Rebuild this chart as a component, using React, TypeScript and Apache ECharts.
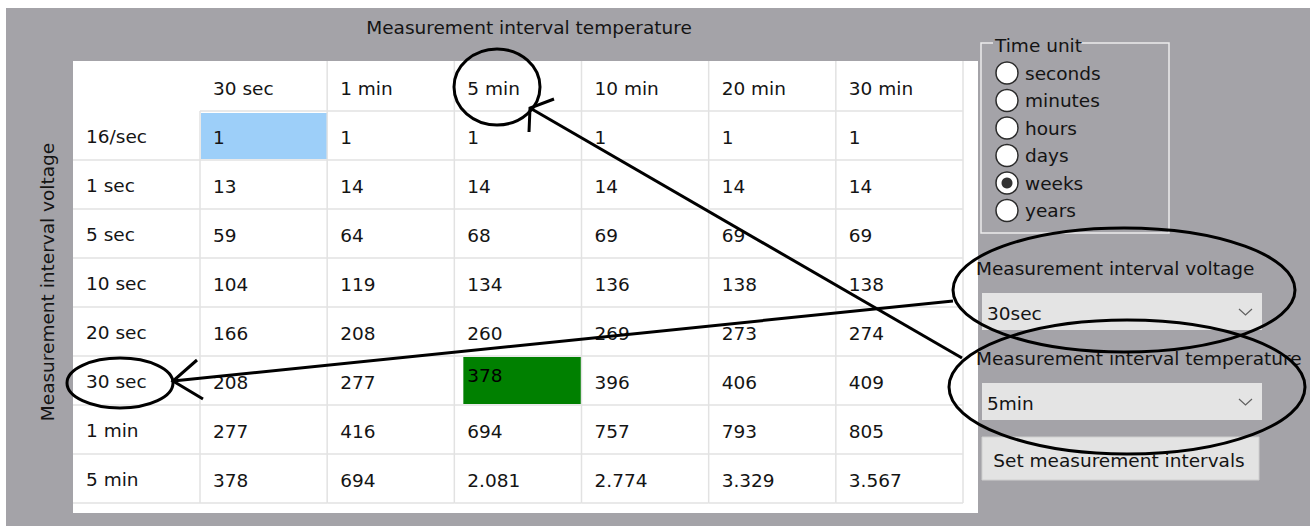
import React, { useEffect, useRef } from "react";
import * as echarts from "echarts";

// ---- data ----
const tempIntervals = ["30 sec", "1 min", "5 min", "10 min", "20 min", "30 min"];
const voltageIntervals = ["16/sec", "1 sec", "5 sec", "10 sec", "20 sec", "30 sec", "1 min", "5 min"];
const row16PerSec = [1, 1, 1, 1, 1, 1];
const row1Sec = [13, 14, 14, 14, 14, 14];
const row5Sec = [59, 64, 68, 69, 69, 69];
const row10Sec = [104, 119, 134, 136, 138, 138];
const row20Sec = [166, 208, 260, 269, 273, 274];
const row30Sec = [208, 277, 378, 396, 406, 409];
const row1Min = [277, 416, 694, 757, 793, 805];
const row5Min = [378, 694, 2081, 2774, 3329, 3567];
const durationRows = [row16PerSec, row1Sec, row5Sec, row10Sec, row20Sec, row30Sec, row1Min, row5Min];
const timeUnits = ["seconds", "minutes", "hours", "days", "weeks", "years"];
const selectedTimeUnit = "weeks";
const selectedVoltage = "30sec";
const selectedTemperature = "5min";
const focusedCell = [0, 0]; // [temperature index, voltage index]
const chosenCell = [2, 5];

const FONT = "DejaVu Sans";
const FS = 18.5;
const TXT = "#141414";
const GRIDLINE = "#e2e2e2";

const fmt = (n: number) => String(n).replace(/\B(?=(\d{3})+(?!\d))/g, ".");

export default function App() {
  const ref = useRef<HTMLDivElement>(null);
  useEffect(() => {
    if (!ref.current) return;
    const chart = echarts.init(ref.current, undefined, { renderer: "svg" });

    const cellData: number[][] = [];
    durationRows.forEach((row, r) => row.forEach((v, c) => cellData.push([c, r, v])));

    const border = (x0: number, y0: number, w: number, h: number) => [
      { type: "line", shape: { x1: x0 + w, y1: y0, x2: x0 + w, y2: y0 + h }, style: { stroke: GRIDLINE, lineWidth: 1.5 } },
      { type: "line", shape: { x1: x0, y1: y0 + h, x2: x0 + w, y2: y0 + h }, style: { stroke: GRIDLINE, lineWidth: 1.5 } },
    ];
    const label = (text: string, x: number, y: number, fill = TXT) => ({
      type: "text",
      x,
      y,
      style: { text, fill, fontFamily: FONT, fontSize: FS, align: "left", verticalAlign: "middle" },
    });

    const radioEls: any[] = [];
    timeUnits.forEach((u, i) => {
      const cy = 73 + i * 27.5;
      radioEls.push({ type: "circle", shape: { cx: 1007, cy, r: 11 }, style: { fill: "#ffffff", stroke: "#2b2b2b", lineWidth: 1.5 }, z: 5 });
      if (u === selectedTimeUnit)
        radioEls.push({ type: "circle", shape: { cx: 1007, cy, r: 5.5 }, style: { fill: "#333333" }, z: 6 });
      radioEls.push({ type: "text", x: 1025, y: cy, style: { text: u, fill: TXT, fontFamily: FONT, fontSize: FS, align: "left", verticalAlign: "middle" }, z: 5 });
    });

    const ann = { fill: "none", stroke: "#000000", lineWidth: 3 };

    chart.setOption({
      animation: false,
      grid: { left: 200, top: 111, width: 763, height: 392 },
      xAxis: { type: "category", data: tempIntervals, show: false },
      yAxis: { type: "category", data: voltageIntervals, inverse: true, show: false },
      graphic: [
        { type: "rect", shape: { x: 6, y: 8, width: 1310, height: 526 }, style: { fill: "#a4a3a8" }, z: -20 },
        { type: "rect", shape: { x: 73, y: 61, width: 905, height: 452 }, style: { fill: "#ffffff" }, z: -10 },
        { type: "text", x: 529, y: 27, style: { text: "Measurement interval temperature", fill: TXT, fontFamily: FONT, fontSize: FS, align: "center", verticalAlign: "middle" }, z: 5 },
        { type: "text", x: 47, y: 282, rotation: Math.PI / 2, style: { text: "Measurement interval voltage", fill: TXT, fontFamily: FONT, fontSize: FS, align: "center", verticalAlign: "middle" }, z: 5 },
        // group box
        { type: "polyline", shape: { points: [[993, 43], [981, 43], [981, 233], [1169, 233], [1169, 43], [1081, 43]] }, style: { fill: "none", stroke: "#ececec", lineWidth: 1.5 }, z: 4 },
        { type: "text", x: 995, y: 45, style: { text: "Time unit", fill: TXT, fontFamily: FONT, fontSize: FS, align: "left", verticalAlign: "middle" }, z: 5 },
        ...radioEls,
        // voltage combo
        { type: "text", x: 976, y: 268, style: { text: "Measurement interval voltage", fill: TXT, fontFamily: FONT, fontSize: FS, align: "left", verticalAlign: "middle" }, z: 5 },
        { type: "rect", shape: { x: 982, y: 293, width: 280, height: 37 }, style: { fill: "#e4e4e4" }, z: 4 },
        { type: "text", x: 987, y: 313, style: { text: selectedVoltage, fill: TXT, fontFamily: FONT, fontSize: FS, align: "left", verticalAlign: "middle" }, z: 5 },
        { type: "polyline", shape: { points: [[1239, 309], [1245.5, 315], [1252, 309]] }, style: { fill: "none", stroke: "#606060", lineWidth: 1.2 }, z: 5 },
        // temperature combo
        { type: "text", x: 976, y: 358, style: { text: "Measurement interval temperature", fill: TXT, fontFamily: FONT, fontSize: FS, align: "left", verticalAlign: "middle" }, z: 5 },
        { type: "rect", shape: { x: 982, y: 383, width: 280, height: 37 }, style: { fill: "#e4e4e4" }, z: 4 },
        { type: "text", x: 987, y: 403, style: { text: selectedTemperature, fill: TXT, fontFamily: FONT, fontSize: FS, align: "left", verticalAlign: "middle" }, z: 5 },
        { type: "polyline", shape: { points: [[1239, 399], [1245.5, 405], [1252, 399]] }, style: { fill: "none", stroke: "#606060", lineWidth: 1.2 }, z: 5 },
        // button
        { type: "rect", shape: { x: 982, y: 437, width: 277, height: 43 }, style: { fill: "#e3e3e3", stroke: "#cfcfcf", lineWidth: 1 }, z: 4 },
        { type: "text", x: 1119, y: 460, style: { text: "Set measurement intervals", fill: TXT, fontFamily: FONT, fontSize: FS, align: "center", verticalAlign: "middle" }, z: 5 },
        // annotations
        { type: "ellipse", shape: { cx: 497, cy: 87, rx: 43, ry: 38 }, style: ann, z: 100 },
        { type: "ellipse", shape: { cx: 120, cy: 383, rx: 53, ry: 25 }, style: ann, z: 100 },
        { type: "ellipse", shape: { cx: 1124, cy: 290, rx: 171, ry: 62 }, style: ann, z: 100 },
        { type: "ellipse", shape: { cx: 1127, cy: 387, rx: 178, ry: 67 }, style: ann, z: 100 },
        { type: "line", shape: { x1: 173, y1: 381, x2: 953, y2: 301 }, style: ann, z: 100 },
        { type: "polyline", shape: { points: [[197, 360], [173, 381], [203, 399]] }, style: ann, z: 100 },
        { type: "line", shape: { x1: 530, y1: 108, x2: 962, y2: 358 }, style: ann, z: 100 },
        { type: "polyline", shape: { points: [[554, 99], [530, 108], [529, 132]] }, style: ann, z: 100 },
      ],
      series: [
        {
          type: "custom",
          name: "cells",
          clip: false,
          data: cellData,
          renderItem: (params: any, api: any) => {
            const c = api.value(0);
            const r = api.value(1);
            const v = api.value(2);
            const p = api.coord([c, r]);
            const s = api.size([1, 1]);
            const x0 = p[0] - s[0] / 2;
            const y0 = p[1] - s[1] / 2;
            const children: any[] = [];
            const isFocus = c === focusedCell[0] && r === focusedCell[1];
            const isChosen = c === chosenCell[0] && r === chosenCell[1];
            if (isFocus)
              children.push({ type: "rect", shape: { x: x0 + 1, y: y0 + 2, width: s[0] - 1, height: s[1] - 3 }, style: { fill: "#9dcff9" } });
            if (isChosen)
              children.push({ type: "rect", shape: { x: x0 + 9, y: y0 + 1, width: s[0] - 9, height: s[1] - 2 }, style: { fill: "#008000" } });
            children.push(...border(x0, y0, s[0], s[1]));
            if (isChosen) children.push(label(fmt(v), x0 + 13, y0 + 19, "#000000"));
            else children.push(label(fmt(v), x0 + 13, p[1] + 2));
            return { type: "group", children };
          },
        },
        {
          type: "custom",
          name: "temperature headers",
          clip: false,
          data: tempIntervals.map((_, i) => [i, 0]),
          renderItem: (params: any, api: any) => {
            const p = api.coord([api.value(0), 0]);
            const s = api.size([1, 1]);
            const x0 = p[0] - s[0] / 2;
            const y0 = p[1] - s[1] / 2 - 50;
            return {
              type: "group",
              children: [...border(x0, y0, s[0], 50), label(tempIntervals[params.dataIndex], x0 + 13, y0 + 27)],
            };
          },
        },
        {
          type: "custom",
          name: "voltage headers",
          clip: false,
          data: voltageIntervals.map((_, j) => [0, j]),
          renderItem: (params: any, api: any) => {
            const p = api.coord([0, api.value(1)]);
            const s = api.size([1, 1]);
            const x0 = p[0] - s[0] / 2 - 127;
            const y0 = p[1] - s[1] / 2;
            return {
              type: "group",
              children: [...border(x0, y0, 127, s[1]), label(voltageIntervals[params.dataIndex], x0 + 13, p[1] + 1)],
            };
          },
        },
      ],
    });
    return () => chart.dispose();
  }, []);
  return <div ref={ref} style={{ position: "absolute", left: 0, top: 0, width: 1310, height: 526 }} />;
}
